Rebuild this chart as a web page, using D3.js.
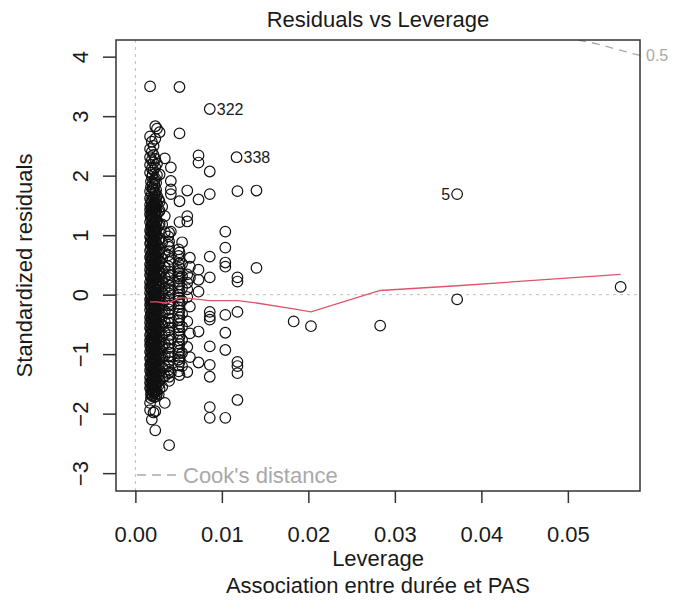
<!DOCTYPE html>
<html>
<head>
<meta charset="utf-8">
<script src="https://cdn.jsdelivr.net/npm/d3@7"></script>
<style>
  body { margin: 0; background: #fff; }
  svg { font-family: "Liberation Sans", Arial, sans-serif; }
</style>
</head>
<body>
<div id="chart"></div>
<script>
// leverage columns and the standardized residuals read in each column
const colLev = [0.0017, 0.0018, 0.0019, 0.0020, 0.0021, 0.0022, 0.0023, 0.0024, 0.0025, 0.0027,
                0.0028, 0.0031, 0.0034, 0.0038, 0.0039, 0.0041,
                0.0050, 0.0051, 0.0054, 0.0060, 0.0063, 0.0073, 0.0086, 0.0104, 0.0118, 0.0140];
const colRes = [
  [3.50, 2.66, 2.45, 2.31, 2.18, 2.05, 1.74, 1.62, 1.51, 1.43, 1.35, 1.22, 1.08, 0.97, 0.86, 0.74, 0.63, 0.51, 0.42, 0.33, 0.21, 0.12, 0.03, -0.08, -0.17, -0.26, -0.38, -0.47, -0.56, -0.68, -0.77, -0.85, -0.96, -1.07, -1.18, -1.27, -1.39, -1.48, -1.57, -1.82, -1.94],
  [1.90, 1.81, 1.58, 1.46, 1.33, 1.27, 1.15, 1.06, 0.95, 0.88, 0.77, 0.66, 0.59, 0.49, 0.39, 0.30, 0.18, 0.10, -0.01, -0.06, -0.14, -0.21, -0.33, -0.41, -0.50, -0.58, -0.65, -0.74, -0.82, -0.90, -0.99, -1.05, -1.16, -1.22, -1.31, -1.41, -1.50, -1.59, -1.67, -1.74],
  [2.57, 2.40, 2.26, 2.12, 1.98, 1.69, 1.56, 1.47, 1.38, 1.29, 1.17, 1.04, 0.93, 0.81, 0.69, 0.58, 0.47, 0.37, 0.27, 0.16, 0.07, -0.03, -0.12, -0.22, -0.31, -0.42, -0.52, -0.61, -0.72, -0.81, -0.91, -1.01, -1.12, -1.23, -1.33, -1.44, -1.53, -1.62, -1.70, -2.10],
  [2.02, 1.87, 1.79, 1.61, 1.50, 1.41, 1.30, 1.19, 1.09, 1.01, 0.90, 0.83, 0.72, 0.61, 0.52, 0.43, 0.32, 0.23, 0.15, 0.04, -0.07, -0.15, -0.27, -0.36, -0.45, -0.57, -0.66, -0.75, -0.86, -0.95, -1.04, -1.15, -1.26, -1.35, -1.43, -1.52, -1.61, -1.69],
  [2.50, 2.35, 2.22, 2.09, 1.77, 1.64, 1.53, 1.44, 1.32, 1.20, 1.11, 1.00, 0.89, 0.78, 0.66, 0.55, 0.45, 0.35, 0.24, 0.14, 0.05, -0.05, -0.14, -0.24, -0.34, -0.44, -0.54, -0.63, -0.74, -0.83, -0.93, -1.03, -1.14, -1.25, -1.36, -1.46, -1.55, -1.64, -1.98],
  [1.93, 1.84, 1.70, 1.55, 1.45, 1.37, 1.24, 1.13, 1.05, 0.94, 0.84, 0.73, 0.64, 0.53, 0.41, 0.34, 0.26, 0.13, 0.02, -0.09, -0.18, -0.28, -0.37, -0.46, -0.55, -0.67, -0.76, -0.87, -0.97, -1.08, -1.17, -1.28, -1.38, -1.47, -1.56, -1.65, -1.72],
  [2.83, 2.62, 2.28, 2.14, 1.95, 1.72, 1.59, 1.49, 1.40, 1.26, 1.14, 1.02, 0.91, 0.79, 0.67, 0.56, 0.44, 0.31, 0.19, 0.09, -0.01, -0.10, -0.20, -0.29, -0.40, -0.49, -0.59, -0.70, -0.79, -0.89, -0.99, -1.10, -1.21, -1.31, -1.42, -1.51, -1.60, -1.96, -2.28],
  [1.88, 1.76, 1.63, 1.54, 1.42, 1.31, 1.21, 1.10, 0.98, 0.87, 0.75, 0.65, 0.57, 0.46, 0.36, 0.28, 0.17, 0.08, -0.04, -0.13, -0.25, -0.35, -0.43, -0.53, -0.64, -0.72, -0.84, -0.94, -1.02, -1.13, -1.24, -1.34, -1.43, -1.54, -1.63, -1.71],
  [2.79, 2.20, 2.01, 1.66, 1.52, 1.36, 1.24, 1.12, 0.99, 0.84, 0.71, 0.60, 0.48, 0.38, 0.25, 0.13, 0.01, -0.11, -0.23, -0.36, -0.48, -0.60, -0.73, -0.86, -0.98, -1.11, -1.24, -1.37, -1.50, -1.66],
  [1.60, 1.39, 1.16, 0.92, 0.70, 0.50, 0.32, 0.12, -0.06, -0.24, -0.43, -0.62, -0.80, -1.00, -1.19, -1.36, -1.52, -1.68],
  [2.73, 2.02, 1.56, 1.41, 1.19, 0.95, 0.76, 0.54, 0.36, 0.17, -0.02, -0.19, -0.37, -0.55, -0.74, -0.92, -1.09, -1.28, -1.45, -1.58],
  [1.48, 1.18, 0.88, 0.61, 0.40, 0.22, 0.04, -0.15, -0.33, -0.51, -0.70, -0.88, -1.05, -1.22, -1.40, -1.55],
  [2.29, 1.32, 1.05, 0.70, 0.46, 0.29, 0.10, -0.09, -0.28, -0.46, -0.64, -0.83, -1.02, -1.20, -1.37, -1.82],
  [0.98, 0.84, 0.66, 0.48, 0.34, 0.21, 0.08, -0.05, -0.18, -0.32, -0.47, -0.61, -0.76, -0.90, -1.04, -1.19, -1.32],
  [1.04, 0.89, 0.80, 0.73, 0.55, 0.39, 0.28, 0.15, 0.02, -0.12, -0.25, -0.40, -0.55, -0.68, -0.83, -0.97, -1.12, -1.26, -1.38, -1.45, -2.53],
  [2.14, 1.91, 1.77, 1.69, 1.06, 0.60, 0.33, 0.08, -0.18, -0.47, -0.75, -1.04, -1.31],
  [0.76, 0.65, 0.52, 0.40, 0.31, 0.22, 0.11, 0.00, -0.10, -0.21, -0.32, -0.43, -0.55, -0.66, -0.77, -0.88, -0.99, -1.09, -1.19, -1.29],
  [3.49, 2.71, 1.57, 1.22, 0.71, 0.59, 0.45, 0.36, 0.27, 0.17, 0.06, -0.05, -0.16, -0.27, -0.38, -0.49, -0.60, -0.71, -0.83, -0.94, -1.05, -1.13, -1.35],
  [0.88, 0.52, 0.31, 0.11, -0.10, -0.32, -0.54, -0.76, -0.98, -1.20],
  [1.75, 1.32, 1.23, 0.34, 0.20, 0.09, -0.04, -0.45, -0.88, -1.30],
  [0.62, 0.47, 0.28, -0.20, -0.65, -1.05],
  [2.34, 2.22, 1.60, 0.42, 0.25, 0.05, -0.62, -1.14],
  [2.07, 1.69, 0.64, 0.29, -0.29, -0.37, -0.42, -0.87, -1.18, -1.38, -1.89, -2.07],
  [1.06, 0.79, 0.54, 0.47, -0.34, -0.64, -0.93, -2.07],
  [1.74, 0.29, 0.22, -0.29, -1.13, -1.20, -1.32, -1.77],
  [1.75, 0.45]
];

// isolated high-leverage points
const farLev = [0.0183, 0.0203, 0.0283, 0.0372, 0.0372, 0.0561];
const farRes = [-0.45, -0.53, -0.52, 1.69, -0.08, 0.13];

// labelled observations
const labIds = ["322", "338", "5"];
const labLev = [0.0086, 0.0117, 0.0372];
const labRes = [3.12, 2.31, 1.69];

// red smoother
const smoothLev = [0.0017, 0.0025, 0.0034, 0.0041, 0.0051, 0.0060, 0.0073, 0.0086, 0.0104, 0.0118, 0.0140, 0.0183, 0.0203, 0.0283, 0.0372, 0.0561];
const smoothRes = [-0.12, -0.12, -0.14, -0.13, -0.05, -0.06, -0.08, -0.10, -0.10, -0.10, -0.14, -0.24, -0.29, 0.07, 0.15, 0.34];

// Cook's distance 0.5 contour (visible part)
const cookLev = [0.0512, 0.0535, 0.0560, 0.05834];
const cookRes = [4.28, 4.21, 4.11, 4.02];

const xTicks = [0, 0.01, 0.02, 0.03, 0.04, 0.05];
const yTicks = [-3, -2, -1, 0, 1, 2, 3, 4];

const W = 687, H = 601;
const pl = 116, pr = 640, pt = 40, pb = 491;
const txt = "#1a1a1a", grey = "#a9a9a9";
const fs = 22;

const svg = d3.select("#chart").append("svg")
  .attr("width", W).attr("height", H);

const x = d3.scaleLinear().domain([-0.00224, 0.05834]).range([pl, pr]);
const y = d3.scaleLinear().domain([-3.30, 4.28]).range([pb, pt]);

svg.append("clipPath").attr("id", "clip")
  .append("rect").attr("x", pl).attr("y", pt)
  .attr("width", pr - pl).attr("height", pb - pt);

const plot = svg.append("g").attr("clip-path", "url(#clip)");

// dotted zero lines
plot.append("line")
  .attr("x1", x(0)).attr("x2", x(0)).attr("y1", pt).attr("y2", pb)
  .attr("stroke", "#bebebe").attr("stroke-dasharray", "3,4");
plot.append("line")
  .attr("x1", pl).attr("x2", pr).attr("y1", y(0)).attr("y2", y(0))
  .attr("stroke", "#bebebe").attr("stroke-dasharray", "3,4");

// points
const pts = [];
colLev.forEach((h, i) => colRes[i].forEach(r => pts.push({h: h, r: r})));
farLev.forEach((h, i) => pts.push({h: h, r: farRes[i]}));
pts.push({h: labLev[0], r: labRes[0]});
pts.push({h: labLev[1], r: labRes[1]});

plot.selectAll("circle.pt")
  .data(pts)
  .join("circle")
  .attr("class", "pt")
  .attr("cx", d => x(d.h))
  .attr("cy", d => y(d.r))
  .attr("r", 5.3)
  .attr("fill", "none")
  .attr("stroke", "#111")
  .attr("stroke-width", 1.2);

// smoother
plot.append("path")
  .datum(smoothLev.map((h, i) => [h, smoothRes[i]]))
  .attr("d", d3.line().x(d => x(d[0])).y(d => y(d[1])))
  .attr("fill", "none")
  .attr("stroke", "#DF536B")
  .attr("stroke-width", 1.3);

// cook's distance curve
plot.append("path")
  .datum(cookLev.map((h, i) => [h, cookRes[i]]))
  .attr("d", d3.line().curve(d3.curveMonotoneX).x(d => x(d[0])).y(d => y(d[1])))
  .attr("fill", "none")
  .attr("stroke", grey)
  .attr("stroke-width", 1.3)
  .attr("stroke-dasharray", "8,6");

svg.append("text")
  .attr("x", pr + 6).attr("y", y(cookRes[cookRes.length - 1]))
  .attr("dy", "0.36em")
  .attr("font-size", 16).attr("fill", grey)
  .text("0.5");

// point labels
labIds.forEach((id, i) => {
  const isLeft = id === "5";
  svg.append("text")
    .attr("x", x(labLev[i]) + (isLeft ? -7 : 7))
    .attr("y", y(labRes[i]))
    .attr("dy", "0.36em")
    .attr("text-anchor", isLeft ? "end" : "start")
    .attr("font-size", 16).attr("fill", txt)
    .text(id);
});

// legend
svg.append("line")
  .attr("x1", 137).attr("x2", 177).attr("y1", 475).attr("y2", 475)
  .attr("stroke", grey).attr("stroke-width", 1.3)
  .attr("stroke-dasharray", "9,6");
svg.append("text")
  .attr("x", 183).attr("y", 475).attr("dy", "0.36em")
  .attr("font-size", fs).attr("fill", grey)
  .text("Cook's distance");

// box
svg.append("rect")
  .attr("x", pl).attr("y", pt)
  .attr("width", pr - pl).attr("height", pb - pt)
  .attr("fill", "none").attr("stroke", "#333").attr("stroke-width", 1.5);

// x axis
const gx = svg.append("g")
  .attr("transform", `translate(0,${pb})`)
  .call(d3.axisBottom(x).tickValues(xTicks).tickFormat(d3.format(".2f")).tickSize(12).tickPadding(23));
gx.select(".domain").remove();
gx.selectAll("line").attr("stroke", "#333").attr("stroke-width", 1.5);
gx.selectAll("text").attr("font-size", fs).attr("fill", txt);
gx.attr("font-family", null).attr("font-size", null);

// y axis, labels turned like R does
const gy = svg.append("g")
  .attr("transform", `translate(${pl},0)`)
  .call(d3.axisLeft(y).tickValues(yTicks).tickSize(13));
gy.select(".domain").remove();
gy.selectAll("line").attr("stroke", "#333").attr("stroke-width", 1.5);
gy.selectAll("text")
  .attr("x", null).attr("dy", null)
  .attr("transform", "translate(-28,0) rotate(-90)")
  .attr("text-anchor", "middle")
  .attr("font-size", fs).attr("fill", txt);
gy.attr("font-family", null).attr("font-size", null);

// titles
const cx = (pl + pr) / 2;
svg.append("text").attr("x", cx).attr("y", 27)
  .attr("text-anchor", "middle").attr("font-size", fs).attr("fill", txt)
  .text("Residuals vs Leverage");
svg.append("text").attr("x", cx).attr("y", 566)
  .attr("text-anchor", "middle").attr("font-size", fs).attr("fill", txt)
  .text("Leverage");
svg.append("text").attr("x", cx).attr("y", 593)
  .attr("text-anchor", "middle").attr("font-size", fs).attr("fill", txt)
  .text("Association entre durée et PAS");
svg.append("text")
  .attr("transform", `translate(32,${(pt + pb) / 2}) rotate(-90)`)
  .attr("text-anchor", "middle").attr("font-size", fs).attr("fill", txt)
  .text("Standardized residuals");
</script>
</body>
</html>
